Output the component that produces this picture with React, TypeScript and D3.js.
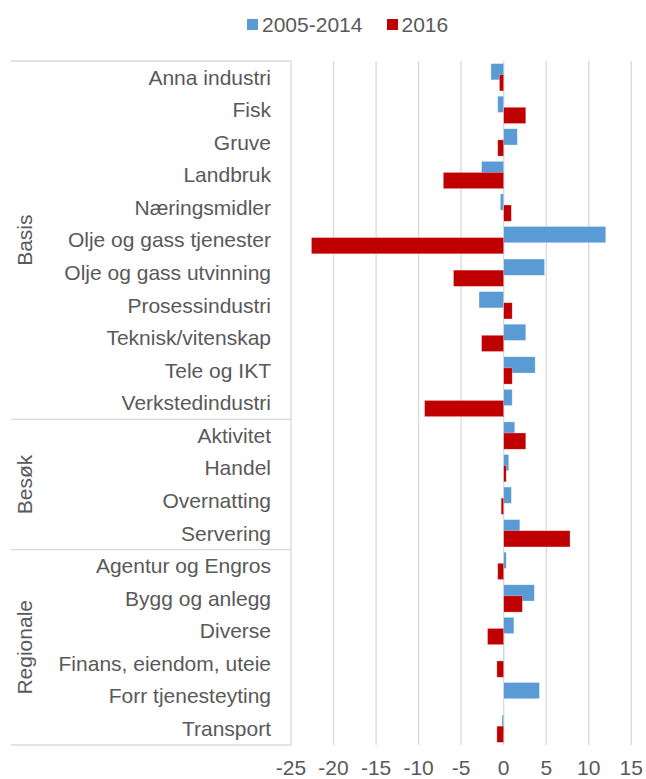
import React from "react"
import * as d3 from "d3"

const groups = ["Basis", "Besøk", "Regionale"]
const categories = [
    "Anna industri", "Fisk", "Gruve", "Landbruk", "Næringsmidler",
    "Olje og gass tjenester", "Olje og gass utvinning", "Prosessindustri",
    "Teknisk/vitenskap", "Tele og IKT", "Verkstedindustri",
    "Aktivitet", "Handel", "Overnatting", "Servering",
    "Agentur og Engros", "Bygg og anlegg", "Diverse",
    "Finans, eiendom, uteie", "Forr tjenesteyting", "Transport",
]
const groupOf = [
    0, 0, 0, 0, 0, 0, 0, 0, 0, 0, 0,
    1, 1, 1, 1,
    2, 2, 2, 2, 2, 2,
]
const series = ["2005-2014", "2016"]
const values2005 = [
    -1.5, -0.7, 1.6, -2.6, -0.4, 12.0, 4.8, -2.9, 2.6, 3.7, 1.0,
    1.3, 0.6, 0.9, 1.9,
    0.3, 3.6, 1.2, 0.05, 4.2, -0.2,
]
const values2016 = [
    -0.5, 2.6, -0.7, -7.1, 0.9, -22.6, -5.9, 1.0, -2.6, 1.0, -9.3,
    2.6, 0.3, -0.3, 7.8,
    -0.7, 2.2, -1.9, -0.8, 0, -0.8,
]
const ticks = [-25, -20, -15, -10, -5, 0, 5, 10, 15]

const colors = ["#5B9BD5", "#C00000"]
const W = 646
const H = 779
const font = "'Liberation Sans', Arial, sans-serif"
const textColor = "#595959"
const gridColor = "#d9d9d9"

export default function App() {
    const x = d3.scaleLinear().domain([-25, 15]).range([291, 631.3])
    const y = d3.scaleBand().domain(categories).range([61, 745])
    const bw = y.bandwidth()
    const barH = bw * 0.5
    const shift = bw * 0.34
    const all = [values2005, values2016]

    // group boundaries
    const bounds: number[] = [0]
    groupOf.forEach((g, i) => {
        if (i > 0 && g !== groupOf[i - 1]) bounds.push(i)
    })
    bounds.push(categories.length)
    const yAt = (i: number) => (i < categories.length ? y(categories[i])! : 745)

    return (
        <svg width={W} height={H} style={{ position: "absolute", left: 0, top: 0, background: "#fff" }}
            fontFamily={font}>
            {/* legend */}
            <g>
                <rect x={247} y={19} width={11} height={11} fill={colors[0]} />
                <text x={262} y={31.5} fontSize={21} fill={textColor}>{series[0]}</text>
                <rect x={387} y={19} width={11} height={11} fill={colors[1]} />
                <text x={401.5} y={31.5} fontSize={21} fill={textColor}>{series[1]}</text>
            </g>
            {/* grid */}
            {ticks.map(t => (
                <line key={t} x1={x(t)} x2={x(t)} y1={61} y2={745} stroke={gridColor} strokeWidth={1.3} />
            ))}
            {/* group separators */}
            {bounds.map((b, i) => (
                <line key={"b" + i} x1={11} x2={291} y1={yAt(b)} y2={yAt(b)} stroke={gridColor} strokeWidth={1.3} />
            ))}
            {/* bars */}
            {all.map((vals, s) => (
                <g key={s}>
                    {vals.map((v, i) => (
                        <rect key={i}
                            x={Math.min(x(0), x(v))}
                            width={Math.abs(x(v) - x(0))}
                            y={y(categories[i])! + (bw - barH - shift) / 2 + s * shift}
                            height={barH}
                            fill={colors[s]}
                            stroke="#fff" strokeOpacity={0.5} strokeWidth={0.6}
                        />
                    ))}
                </g>
            ))}
            {/* category labels */}
            {categories.map(c => (
                <text key={c} x={271} y={y(c)! + bw / 2} dy="0.35em" textAnchor="end" fontSize={21} fill={textColor}>{c}</text>
            ))}
            {/* group labels */}
            {groups.map((g, gi) => {
                const cy = (yAt(bounds[gi]) + yAt(bounds[gi + 1])) / 2
                return (
                    <text key={g} transform={`translate(32,${cy}) rotate(-90)`} textAnchor="middle"
                        fontSize={21} fill={textColor}>{g}</text>
                )
            })}
            {/* x tick labels */}
            {ticks.map(t => (
                <text key={"t" + t} x={x(t)} y={775} textAnchor="middle" fontSize={21} fill={textColor}>{t}</text>
            ))}
        </svg>
    )
}
